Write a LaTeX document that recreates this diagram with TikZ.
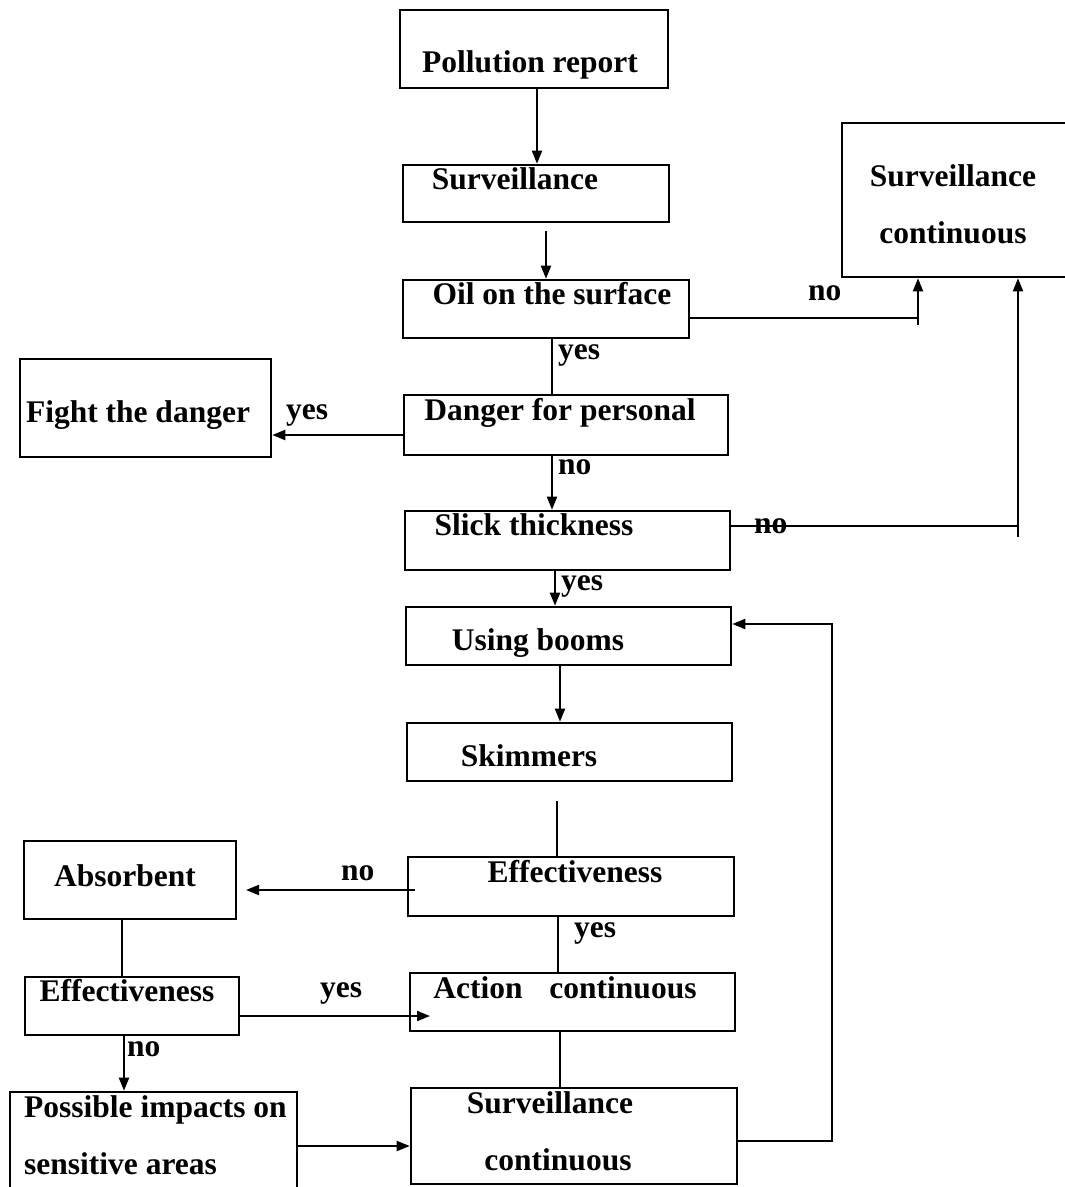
\documentclass[tikz,border=0pt]{standalone}
\usepackage{fontspec}
\setmainfont{Liberation Serif}
\usetikzlibrary{arrows.meta,calc}
\begin{document}
\begin{tikzpicture}[x=1pt,y=-1pt,
  box/.style={draw, line width=2.6pt, rectangle, inner sep=0pt},
  txt/.style={font=\fontsize{31.5}{36}\selectfont\bfseries, inner sep=0pt, anchor=base},
  lbl/.style={font=\fontsize{31.5}{36}\selectfont\bfseries, inner sep=0pt, anchor=base west},
  conn/.style={line width=2pt},
  arr/.style={line width=2pt, -{Triangle[length=13pt,width=10pt]}}]
\useasboundingbox (0,0) rectangle (1065,1187);
% boxes
\node[box, minimum width=268pt, minimum height=78pt] (poll) at (534,49) {};
\node[box, minimum width=266pt, minimum height=57pt] (surv) at (536,193.5) {};
\node[box, minimum width=226pt, minimum height=154pt] (survc) at (955,200) {};
\node[box, minimum width=286pt, minimum height=58pt] (oil) at (546,309) {};
\node[box, minimum width=324pt, minimum height=60pt] (danger) at (566,425) {};
\node[box, minimum width=251pt, minimum height=98pt] (fight) at (145.5,408) {};
\node[box, minimum width=325pt, minimum height=59pt] (slick) at (567.5,540.5) {};
\node[box, minimum width=325pt, minimum height=58pt] (booms) at (568.5,636) {};
\node[box, minimum width=325pt, minimum height=58pt] (skim) at (569.5,752) {};
\node[box, minimum width=326pt, minimum height=59pt] (effR) at (571,886.5) {};
\node[box, minimum width=212pt, minimum height=78pt] (absorb) at (130,880) {};
\node[box, minimum width=214pt, minimum height=58pt] (effL) at (132,1006) {};
\node[box, minimum width=325pt, minimum height=58pt] (action) at (572.5,1002) {};
\node[box, minimum width=287pt, minimum height=100pt] (poss) at (153.5,1142) {};
\node[box, minimum width=326pt, minimum height=96pt] (survb) at (574,1136) {};
% texts
\node[txt] (t1) at (530,72) {Pollution report};
\node[txt] (t2) at (515,189) {Surveillance};
\node[txt] (t3a) at (953,186) {Surveillance};
\node[txt] (t3b) at (953,243) {continuous};
\node[txt] (t4) at (552,304) {Oil on the surface};
\node[txt] (t5) at (560,420) {Danger for personal};
\node[txt] (t6) at (138,422) {Fight the danger};
\node[txt] (t7) at (534,535) {Slick thickness};
\node[txt] (t8) at (538,650) {Using booms};
\node[txt] (t9) at (529,766) {Skimmers};
\node[txt] (t10) at (575,882) {Effectiveness};
\node[txt] (t11) at (125,886) {Absorbent};
\node[txt] (t12) at (127,1001) {Effectiveness};
\node[txt] (t13) at (565,998) {Action\hspace{0.6em} continuous};
\node[txt, anchor=base west] (t14a) at (24,1117) {Possible impacts on};
\node[txt, anchor=base west] (t14b) at (24,1174) {sensitive areas};
\node[txt] (t15a) at (550,1113) {Surveillance};
\node[txt] (t15b) at (558,1170) {continuous};
% labels
\node[lbl] (l1) at (808,300) {no};
\node[lbl] (l2) at (558,359) {yes};
\node[lbl] (l3) at (286,419) {yes};
\node[lbl] (l4) at (558,474) {no};
\node[lbl] (l5) at (754,533) {no};
\node[lbl] (l6) at (561,590) {yes};
\node[lbl] (l7) at (341,880) {no};
\node[lbl] (l8) at (574,937) {yes};
\node[lbl] (l9) at (320,997) {yes};
\node[lbl] (l10) at (127,1056) {no};
% free ends
\coordinate (effRin) at (415,890);
\coordinate (absin) at (246,890);
\coordinate (actin) at (430,1016);
% connectors
\draw[arr] (537,0 |- poll.south) -- (537,0 |- surv.north);
\draw[arr, shorten <=8pt] (546,0 |- surv.south) -- (546,0 |- oil.north);
\draw[arr] (oil.east |- 0,318) -| (918,0 |- survc.south);
\draw[conn] (918,318) -- (918,325);
\draw[conn] (552,0 |- oil.south) -- (552,0 |- danger.north);
\draw[arr] (danger.west |- 0,435) -- (fight.east |- 0,435);
\draw[arr] (552,0 |- danger.south) -- (552,0 |- slick.north);
\draw[arr] (slick.east |- 0,526) -| (1018,0 |- survc.south);
\draw[conn] (1018,526) -- (1018,537);
\draw[arr] (555,0 |- slick.south) -- (555,0 |- booms.north);
\draw[arr] (560,0 |- booms.south) -- (560,0 |- skim.north);
\draw[conn, shorten <=19pt] (557,0 |- skim.south) -- (557,0 |- effR.north);
\draw[arr] (effRin) -- (absin);
\draw[conn] (558,0 |- effR.south) -- (558,0 |- action.north);
\draw[conn] (560,0 |- action.south) -- (560,0 |- survb.north);
\draw[conn] (122,0 |- absorb.south) -- (122,0 |- effL.north);
\draw[arr] (124,0 |- effL.south) -- (124,0 |- poss.north);
\draw[arr] (effL.east |- 0,1016) -- (actin);
\draw[arr] (poss.east |- 0,1146) -- (survb.west |- 0,1146);
\draw[arr] (survb.east |- 0,1141) -| (832,624) -- (booms.east |- 0,624);
\end{tikzpicture}
\end{document}
